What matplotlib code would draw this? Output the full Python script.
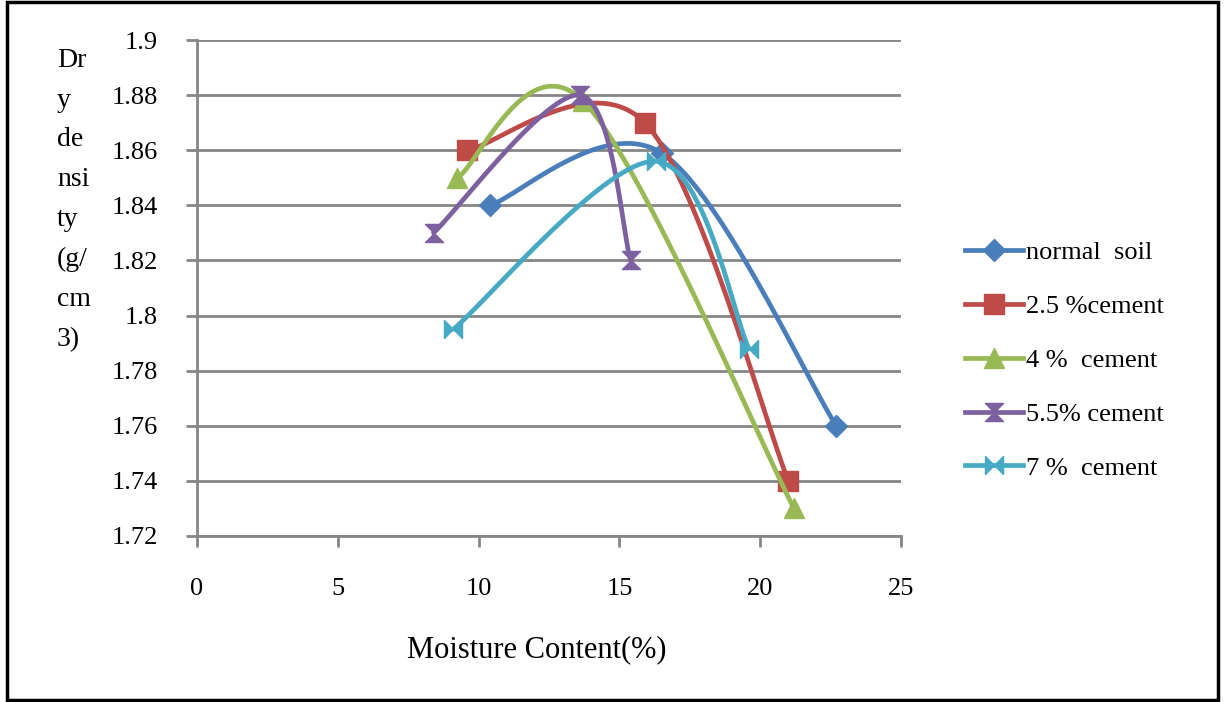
import numpy as np
import matplotlib
matplotlib.use("Agg")
import matplotlib.pyplot as plt
from matplotlib.path import Path
from matplotlib.patches import Rectangle

# data
normal_x = [10.4, 16.5, 22.7]
normal_y = [1.84, 1.859, 1.76]
c25_x = [9.6, 15.9, 21.0]
c25_y = [1.86, 1.87, 1.74]
c4_x = [9.25, 13.7, 21.2]
c4_y = [1.85, 1.878, 1.73]
c55_x = [8.4, 13.6, 15.4]
c55_y = [1.83, 1.88, 1.82]
c7_x = [9.1, 16.3, 19.6]
c7_y = [1.795, 1.856, 1.788]

labels = ["normal  soil", "2.5 %cement", "4 %  cement", "5.5% cement", "7 %  cement"]
colors = ["#4A7EBB", "#BE4B48", "#98B954", "#7D60A0", "#46AAC5"]

plt.rcParams['font.family'] = ['Liberation Serif', 'DejaVu Serif']

XR = 25.0
YR = 0.18


def smooth(xs, ys, n=60):
    # excel-like bezier smoothing through points (scaled space)
    p = np.column_stack([np.array(xs) / XR, np.array(ys) / YR])
    if len(p) < 3:
        return xs, ys
    out = []
    for i in range(len(p) - 1):
        p0 = p[i - 1] if i > 0 else p[i]
        p1 = p[i]
        p2 = p[i + 1]
        p3 = p[i + 2] if i + 2 < len(p) else p[i + 1]
        c1 = p1 + (p2 - p0) / 6.0
        c2 = p2 - (p3 - p1) / 6.0
        t = np.linspace(0, 1, n)[:, None]
        seg = ((1 - t) ** 3) * p1 + 3 * ((1 - t) ** 2) * t * c1 + 3 * (1 - t) * t ** 2 * c2 + t ** 3 * p2
        out.append(seg)
    out = np.vstack(out)
    return out[:, 0] * XR, out[:, 1] * YR


hourglass = Path([(-1, 1), (1, 1), (-1, -1), (1, -1), (-1, 1)],
                 [Path.MOVETO, Path.LINETO, Path.LINETO, Path.LINETO, Path.CLOSEPOLY])
bowtie = Path([(-1, 1), (-1, -1), (1, 1), (1, -1), (-1, 1)],
              [Path.MOVETO, Path.LINETO, Path.LINETO, Path.LINETO, Path.CLOSEPOLY])
markers = ['D', 's', '^', hourglass, bowtie]
msizes = [11, 15, 14, 13, 13]

fig = plt.figure(figsize=(12.25, 7.02), dpi=100)
ax = fig.add_axes([0.1608, 0.2365, 0.5747, 0.7065])

series = [(normal_x, normal_y), (c25_x, c25_y), (c4_x, c4_y), (c55_x, c55_y), (c7_x, c7_y)]
for i, ((xs, ys), lab, col, mk, ms) in enumerate(zip(series, labels, colors, markers, msizes)):
    sx, sy = smooth(xs, ys)
    ax.plot(sx, sy, color=col, lw=3.4, solid_capstyle='round', zorder=3 + i * 0.1)
    ax.plot(xs, ys, ls='none', marker=mk, ms=ms, color=col, mec=col, zorder=3.05 + i * 0.1)
    ax.plot([], [], color=col, lw=3.4, marker=mk, ms=ms, label=lab)

ax.set_xlim(0, 25)
ax.set_ylim(1.72, 1.9)
ax.set_xticks(np.arange(0, 26, 5))
ax.set_yticks(np.arange(1.72, 1.9001, 0.02))
ax.set_yticklabels(["1.72", "1.74", "1.76", "1.78", "1.8", "1.82", "1.84", "1.86", "1.88", "1.9"])
ax.grid(axis='y', color='#868686', lw=2)
ax.set_axisbelow(True)
for s in ['top', 'right']:
    ax.spines[s].set_visible(False)
for s in ['left', 'bottom']:
    ax.spines[s].set_color('#868686')
    ax.spines[s].set_linewidth(2)
ax.tick_params(axis='both', colors='#868686', width=2, length=8, labelcolor='black', labelsize=19)
ax.tick_params(axis='x', pad=22)
ax.tick_params(axis='y', pad=20)

fig.text(0.0465, 0.932, "Dr\ny\nde\nnsi\nty\n(g/\ncm\n3)", fontsize=20, va='top', ha='left', linespacing=1.78)
fig.text(0.438, 0.074, "Moisture Content(%)", fontsize=22, ha='center', va='center')

leg = fig.legend(loc='upper left', bbox_to_anchor=(0.779, 0.672), frameon=False, fontsize=19,
                 handlelength=2.2, labelspacing=1.15, handletextpad=0.12, borderaxespad=0)

fig.patches.append(Rectangle((0.006, 0.003), 0.988, 0.994, transform=fig.transFigure,
                             fill=False, edgecolor='black', lw=2.5))

fig.savefig("out.png", dpi=100)
